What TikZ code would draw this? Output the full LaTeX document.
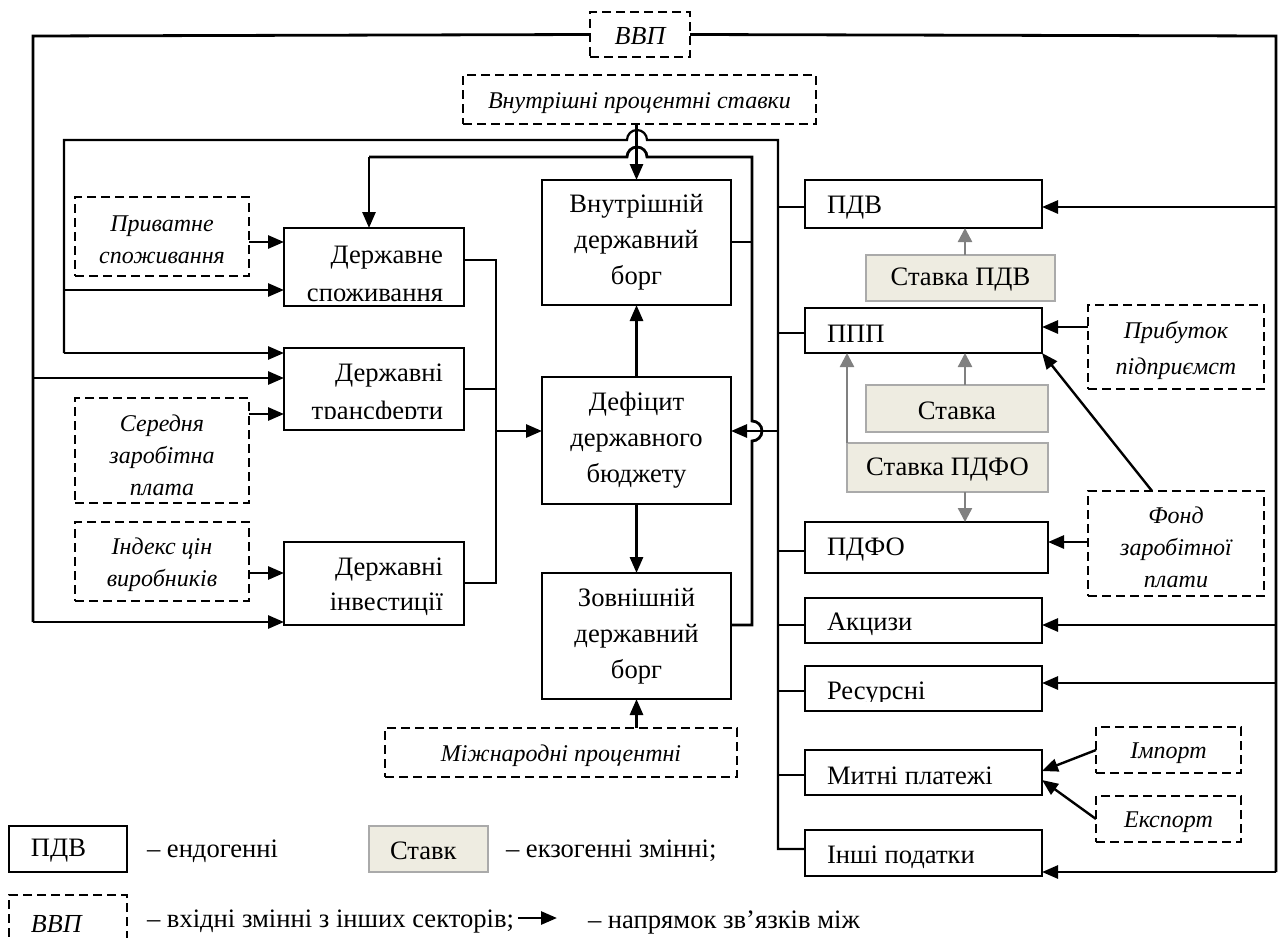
\documentclass[tikz,border=0pt]{standalone}
\usepackage{fontspec}
\setmainfont{Liberation Serif}
\usetikzlibrary{arrows.meta}
\definecolor{exofill}{RGB}{238,236,225}
\definecolor{exoline}{RGB}{170,170,170}
\definecolor{arrgray}{RGB}{128,128,128}

% box with corners (x1,y1)-(x2,y2), given in pixel units, and its centred text
\newcommand\bx[8]{%
  \node[#6, minimum width={(#4-#2)*0.5pt}, minimum height={(#5-#3)*0.5pt}] (#1) at ({(#2+#4)/2},{(#3+#5)/2}) {};
  \node[#7] (#1-t) at (#1.center) {#8};}

\begin{document}
\begin{tikzpicture}[x=0.5pt,y=-0.5pt,
  every node/.style={inner sep=0pt, outer sep=0pt},
  rm/.style={font=\fontsize{13.3}{17}\selectfont},
  it/.style={font=\fontsize{12}{16}\selectfont\itshape, yshift=-1.8pt},
  itb/.style={font=\fontsize{13}{16}\selectfont\itshape, yshift=-0.8pt},
  exot/.style={rm, yshift=-1pt},
  endo/.style={draw, line width=1.2pt},
  ext/.style={draw, line width=1.1pt, dash pattern=on 4.5pt off 2.5pt},
  exo/.style={draw=exoline, fill=exofill, line width=1.1pt},
  ln/.style={line width=1.4pt},
  tn/.style={line width=1.1pt},
  arr/.style={line width=1.4pt, -{Triangle[length=8pt,width=6.5pt]}},
  garr/.style={draw=arrgray, line width=1.2pt, -{Triangle[length=7pt,width=7pt]}},
]
\useasboundingbox (0,0) rectangle (1278,937);
\clip (0,0) rectangle (1278,937);

% ---------- exogenous inputs from other sectors ----------
\bx{vvp}{590}{12}{690}{57}{ext}{itb}{ВВП}
\bx{vps}{463}{75}{816}{124}{ext}{it}{Внутрішні процентні ставки}
\bx{psp}{75}{197}{249}{276}{ext}{it,align=center}{Приватне\\споживання}
\bx{szp}{75}{398}{249}{503}{ext}{}{}
\bx{itsv}{75}{522}{249}{601}{ext}{it,align=center}{Індекс цін\\виробників}
\bx{mpr}{385}{728}{737}{777}{ext}{it}{Міжнародні процентні}
\bx{prb}{1088}{305}{1264}{389}{ext}{it,align=center}{Прибуток\\[2pt]підприємст}
\bx{fzp}{1088}{491}{1264}{596}{ext}{it,align=center}{Фонд\\[0pt]заробітної\\[0pt]плати}
\bx{imp}{1096}{727}{1241}{773}{ext}{it}{Імпорт}
\bx{eksp}{1096}{796}{1241}{842}{ext}{it}{Експорт}

\begin{scope}
  \clip (75,398) rectangle (249,496);
  \node[it, yshift=1.8pt] (tszp1) at (162,431) [anchor=base] {Середня};
  \node[it, yshift=1.8pt] (tszp2) at (162,463) [anchor=base] {заробітна};
  \node[it, yshift=1.8pt] (tszp3) at (162,495) [anchor=base] {плата};
\end{scope}

% ---------- expenditure side ----------
\bx{dsp}{284}{228}{464}{306}{endo}{}{}
\bx{dtr}{284}{348}{464}{430}{endo}{}{}
\bx{din}{284}{542}{464}{625}{endo}{}{}
\begin{scope}
  \clip (284,228) rectangle (464,301);
  \node[rm, anchor=base east] (tdsp1) at (443,263) {Державне};
  \node[rm, anchor=base east] (tdsp2) at (443,301) {споживання};
\end{scope}
\begin{scope}
  \clip (284,348) rectangle (464,418);
  \node[rm, anchor=base east] (tdtr1) at (443,381) {Державні};
  \node[rm, anchor=base east] (tdtr2) at (443,419) {трансферти};
\end{scope}
\node[rm, anchor=base east] (tdin1) at (443,575) {Державні};
\node[rm, anchor=base east] (tdin2) at (443,610) {інвестиції};

% ---------- budget deficit and public debt ----------
\bx{vdb}{542}{180}{731}{305}{endo}{rm,align=center}{Внутрішній\\[1pt]державний\\[1pt]борг}
\bx{def}{542}{377}{731}{504}{endo}{rm,align=center}{Дефіцит\\[1pt]державного\\[1pt]бюджету}
\bx{zdb}{542}{573}{731}{699}{endo}{rm,align=center}{Зовнішній\\[1pt]державний\\[1pt]борг}

% ---------- revenue side ----------
\bx{pdv}{805}{180}{1042}{228}{endo}{}{}
\bx{ppp}{805}{308}{1042}{353}{endo}{}{}
\bx{pdfo}{805}{522}{1048}{573}{endo}{}{}
\bx{akc}{805}{598}{1042}{643}{endo}{}{}
\bx{res}{805}{666}{1042}{711}{endo}{}{}
\bx{mit}{805}{750}{1042}{795}{endo}{}{}
\bx{ins}{805}{830}{1042}{876}{endo}{}{}
\node[rm, anchor=west] (tpdv) at (827,208) {ПДВ};
\node[rm, anchor=west] (tppp) at (827,334) {ППП};
\node[rm, anchor=west] (tpdfo) at (827,550) {ПДФО};
\node[rm, anchor=west] (takc) at (827,624) {Акцизи};
\begin{scope}
  \clip (805,666) rectangle (1042,701);
  \node[rm, anchor=base west] (tres) at (827,699) {Ресурсні};
\end{scope}
\node[rm, anchor=west] (tmit) at (827,776) {Митні платежі};
\node[rm, anchor=west] (tins) at (827,857) {Інші податки};

\bx{spdv}{866}{255}{1055}{301}{exo}{exot}{Ставка ПДВ}
\bx{sppp}{866}{385}{1048}{432}{exo}{exot}{Ставка}
\bx{spdfo}{847}{443}{1048}{492}{exo}{exot}{Ставка ПДФО}

% ---------- GDP feeds ----------
\coordinate (gL) at (33,36);
\coordinate (gR) at (1276,36);
\draw[ln] (vvp.west) -- (gL) -- (33,622);
\draw[arr] (33,622) -- (din.west |- 0,622);
\draw[arr] (33,378) -- (dtr.west |- 0,378);
\draw[ln] (vvp.east) -- (gR) -- (1276,872);
\draw[arr] (1276,207) -- (pdv.east |- 0,207);
\draw[arr] (1276,625) -- (akc.east |- 0,625);
\draw[arr] (1276,683) -- (res.east |- 0,683);
\draw[arr] (1276,872) -- (ins.east |- 0,872);

% ---------- other exogenous arrows ----------
\draw[arr] (psp.east |- 0,242) -- (dsp.west |- 0,242);
\draw[arr] (szp.east |- 0,414) -- (dtr.west |- 0,414);
\draw[arr] (itsv.east |- 0,573) -- (din.west |- 0,573);
\draw[arr] (vps.south -| vdb.north) -- (vdb.north);
\draw[arr] (mpr.north -| zdb.south) -- (zdb.south);
\draw[arr] (prb.west |- 0,327) -- (ppp.east |- 0,327);
\draw[arr] (fzp.west |- 0,542) -- (pdfo.east |- 0,542);
\draw[arr, line width=1.2pt] (1152,0 |- fzp.north) -- (ppp.south east);
\draw[arr, line width=1.2pt] (imp.west) -- (mit.east |- 0,771);
\draw[arr, line width=1.2pt] (eksp.west) -- (mit.east |- 0,780);

% ---------- rates ----------
\draw[garr] (965,0 |- spdv.north) -- (965,0 |- pdv.south);
\draw[garr] (965,0 |- sppp.north) -- (965,0 |- ppp.south);
\draw[garr] (spdfo.north west) -- (spdfo.north west |- ppp.south);
\draw[garr] (965,0 |- spdfo.south) -- (965,0 |- pdfo.north);

% ---------- expenditures to deficit ----------
\coordinate (cx) at (496,431);
\draw[ln] (dsp.east |- 0,260) -- (496,260) -- (496,583) -- (din.east |- 0,583);
\draw[ln] (dtr.east |- 0,389) -- (496,389);
\draw[arr] (cx) -- (def.west |- cx);
\draw[arr] (def.north) -- (vdb.south);
\draw[arr] (def.south) -- (zdb.north);

% ---------- debt service back to government consumption ----------
\draw[ln] (zdb.east |- 0,625) -- (752,625) -- (752,441)
  arc[start angle=-90, end angle=90, radius=5pt] -- (752,157)
  -- (647,157) arc[start angle=0, end angle=180, radius=5pt] -- (369,157);
\draw[arr] (369,157) -- (369,0 |- dsp.north);
\draw[ln] (vdb.east |- 0,242) -- (752,242);

% ---------- tax revenue bus ----------
\coordinate (bus) at (778,431);
\draw[tn] (ins.west |- 0,849) -- (778,849) -- (778,140)
  -- (647,140) arc[start angle=0, end angle=180, radius=5pt] -- (64,140) -- (64,353);
\draw[arr] (64,290) -- (dsp.west |- 0,290);
\draw[arr] (64,353) -- (dtr.west |- 0,353);
\draw[arr] (bus) -- (def.east |- bus);
\draw[tn] (pdv.west |- 0,207) -- (778,207);
\draw[tn] (ppp.west |- 0,333) -- (778,333);
\draw[tn] (pdfo.west |- 0,551) -- (778,551);
\draw[tn] (akc.west |- 0,625) -- (778,625);
\draw[tn] (res.west |- 0,691) -- (778,691);
\draw[tn] (mit.west |- 0,775) -- (778,775);

% ---------- legend ----------
\bx{lg1}{9}{826}{127}{872}{endo}{}{}
\node[rm, anchor=west] (lt1) at (31,851) {ПДВ};
\node[rm, anchor=west] (ld1) at (147,851) {– ендогенні};
\bx{lg2}{369}{826}{488}{872}{exo}{}{}
\node[rm, anchor=west] (lt2) at (390,851) {Ставк};
\node[rm, anchor=west] (ld2) at (506,851) {– екзогенні змінні;};
\bx{lg3}{9}{895}{127}{962}{ext}{}{}
\node[itb, anchor=west] (lt3) at (31,922) {ВВП};
\node[rm, anchor=west] (ld3) at (147,922) {– вхідні змінні з інших секторів;};
\coordinate (la1) at (518,918);
\coordinate (la2) at (557,918);
\draw[arr] (la1) -- (la2);
\node[rm, anchor=west] (ld4) at (588,922) {– напрямок зв’язків між};
\end{tikzpicture}
\end{document}
